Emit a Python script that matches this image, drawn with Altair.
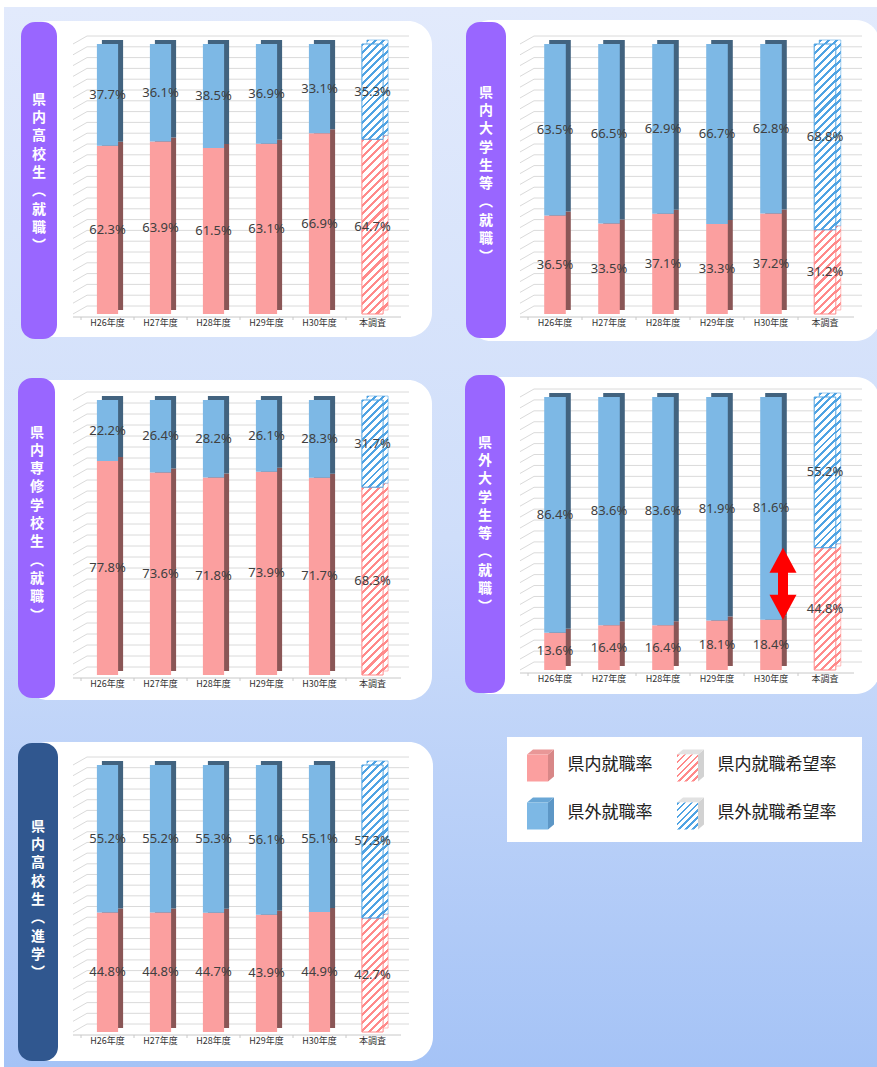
import altair as alt
import pandas as pd

# ---------------- data ----------------
years = ["H26年度", "H27年度", "H28年度", "H29年度", "H30年度", "本調査"]

titles = ["県内高校生（就職）", "県内大学生等（就職）", "県内専修学校生（就職）",
          "県外大学生等（就職）", "県内高校生（進学）"]

in_p1 = [62.3, 63.9, 61.5, 63.1, 66.9, 64.7]
out_p1 = [37.7, 36.1, 38.5, 36.9, 33.1, 35.3]
in_p2 = [36.5, 33.5, 37.1, 33.3, 37.2, 31.2]
out_p2 = [63.5, 66.5, 62.9, 66.7, 62.8, 68.8]
in_p3 = [77.8, 73.6, 71.8, 73.9, 71.7, 68.3]
out_p3 = [22.2, 26.4, 28.2, 26.1, 28.3, 31.7]
in_p4 = [13.6, 16.4, 16.4, 18.1, 18.4, 44.8]
out_p4 = [86.4, 83.6, 83.6, 81.9, 81.6, 55.2]
in_p5 = [44.8, 44.8, 44.7, 43.9, 44.9, 42.7]
out_p5 = [55.2, 55.2, 55.3, 56.1, 55.1, 57.3]

legend_labels = ["県内就職率", "県外就職率", "県内就職希望率", "県外就職希望率"]
legend_cols = [0, 0, 1, 1]
legend_rows = [0, 1, 0, 1]

grid_values = list(range(0, 101, 4))

# ---------------- styles / layout ----------------
PINK, PINK_D, PINK_H = "#fb9f9f", "#8a5656", "#ff8a8a"
BLUE, BLUE_D, BLUE_H = "#7db8e5", "#42637f", "#4fa3e3"
GRID = "#dadada"
DX, DY = 5, -4

GEO = [
    dict(x0=81, x1=399, ybot=314, ytop=44, wx=(24, 432), wy=(21, 337), bx=(21, 57), by=(22, 339),
         bc="#9966ff", tc=(39, 173), fs=14, lh=18.3),
    dict(x0=528, x1=852, ybot=314, ytop=44, wx=(467, 880), wy=(20, 341), bx=(466, 506), by=(22, 338),
         bc="#9966ff", tc=(486, 175), fs=14, lh=18.3),
    dict(x0=81, x1=399, ybot=675, ytop=400, wx=(24, 432), wy=(380, 700), bx=(18, 55), by=(378, 698),
         bc="#9966ff", tc=(37, 524), fs=14, lh=18.3),
    dict(x0=528, x1=852, ybot=670, ytop=397, wx=(467, 880), wy=(377, 694), bx=(465, 505), by=(375, 693),
         bc="#9966ff", tc=(485, 525), fs=14, lh=18.3),
    dict(x0=81, x1=399, ybot=1032, ytop=765, wx=(24, 433), wy=(742, 1061), bx=(18, 58), by=(743, 1061),
         bc="#30578f", tc=(38, 900), fs=14, lh=18.3),
]

one = pd.DataFrame({"k": [0]})


def hatch(color, w, h, period=8.0, frac=0.38):
    k = (w + h) / (w * w + h * h)
    n = max(1, round((w + h) / period))
    stops = []
    for i in range(n):
        a, b, c = i / n, (i + frac) / n, (i + 1) / n
        stops += [{"offset": a, "color": color}, {"offset": b, "color": color},
                  {"offset": b, "color": "white"}, {"offset": c, "color": "white"}]
    return {"gradient": "linear", "x1": 0, "y1": 0, "x2": k * w, "y2": k * h, "stops": stops}


def vtext(t):
    return [{"（": "︵", "）": "︶"}.get(c, c) for c in t]


def rect(x, x2, y, y2, **kw):
    return alt.Chart(one).mark_rect(**kw).encode(
        x=alt.value(x), x2=alt.value(x2), y=alt.value(y), y2=alt.value(y2))


def panel(title, vin, vout, g, arrow=False):
    rows = []
    for yr, a, b in zip(years, vin, vout):
        rows.append(dict(year=yr, seg="in", start=0.0, end=a, mid=a / 2, label=f"{a:.1f}%"))
        rows.append(dict(year=yr, seg="out", start=a, end=a + b, mid=a + b / 2, label=f"{b:.1f}%"))
    df = pd.DataFrame(rows)
    step = (g["x1"] - g["x0"]) / 6
    bw = 0.4 * step
    span = g["ybot"] - g["ytop"]

    xs = alt.Scale(domain=years, range=[g["x0"], g["x1"]], paddingInner=0.6, paddingOuter=0.3)
    ys = alt.Scale(domain=[0, 100], range=[g["ybot"], g["ytop"]], nice=False, zero=False)

    def X(**kw):
        return alt.X("year:N", scale=xs, axis=None, **kw)

    def Y(f):
        return alt.Y(f"{f}:Q", scale=ys, axis=None)

    layers = []
    layers.append(rect(g["wx"][0], g["wx"][1], g["wy"][0], g["wy"][1], color="white", cornerRadius=24))
    layers.append(rect(g["bx"][0], g["bx"][1], g["by"][0], g["by"][1], color=g["bc"], cornerRadius=14))
    chars = vtext(title)
    first_y = g["tc"][1] - (len(chars) - 1) * g["lh"] / 2
    layers.append(alt.Chart(one).mark_text(
        text=chars, font="Noto Sans CJK JP", fontSize=g["fs"], fontWeight="bold",
        color="white", lineHeight=g["lh"], align="center", baseline="middle").encode(
        x=alt.value(g["tc"][0]), y=alt.value(first_y)))

    gdf = pd.DataFrame({"v": grid_values})
    layers.append(alt.Chart(gdf).mark_rule(color=GRID, strokeWidth=1, yOffset=-8).encode(
        y=Y("v"), x=alt.value(g["x0"] + 6), x2=alt.value(g["x1"] + 10)))
    layers.append(alt.Chart(gdf).mark_rule(color=GRID, strokeWidth=1, y2Offset=-8).encode(
        y=Y("v"), y2=alt.Y2("v:Q"), x=alt.value(g["x0"] - 8), x2=alt.value(g["x0"] + 6)))
    fdf = pd.DataFrame({"v": [0]})
    layers.append(alt.Chart(fdf).mark_rule(color="#c8c8c8", strokeWidth=1, yOffset=3).encode(
        y=Y("v"), x=alt.value(g["x0"] - 8), x2=alt.value(g["x1"] + 2)))
    ydf = pd.DataFrame({"year": years})
    layers.append(alt.Chart(ydf).mark_rule(color="#c8c8c8", strokeWidth=1, xOffset=-0.3 * step).encode(
        x=X(bandPosition=0), y=alt.value(g["ybot"] + 3), y2=alt.value(g["ybot"] + 6)))

    solid = alt.Chart(df).transform_filter(alt.datum.year != "本調査")
    # back (3D side/top) faces
    layers.append(solid.mark_bar(xOffset=DX, yOffset=DY, y2Offset=DY).encode(
        x=X(), y=Y("start"), y2=alt.Y2("end:Q"),
        color=alt.condition(alt.datum.seg == "in", alt.value(PINK_D), alt.value(BLUE_D))))
    hat = {}
    for seg, vals, hc in (("in", vin, PINK_H), ("out", vout, BLUE_H)):
        h = vals[-1] / 100 * span
        hat[seg] = (hatch(hc, bw, h), hc)
        layers.append(alt.Chart(df).transform_filter(
            (alt.datum.year == "本調査") & (alt.datum.seg == seg)).mark_bar(
            xOffset=DX, yOffset=DY, y2Offset=DY, fill=hatch(hc, bw, h), stroke=hc,
            strokeWidth=0.8, strokeOpacity=0.7).encode(
            x=X(), y=Y("start"), y2=alt.Y2("end:Q")))
    # front faces
    layers.append(solid.mark_bar().encode(
        x=X(), y=Y("start"), y2=alt.Y2("end:Q"),
        color=alt.condition(alt.datum.seg == "in", alt.value(PINK), alt.value(BLUE))))
    for seg in ("in", "out"):
        grad, hc = hat[seg]
        layers.append(alt.Chart(df).transform_filter(
            (alt.datum.year == "本調査") & (alt.datum.seg == seg)).mark_bar(
            fill=grad, stroke=hc, strokeWidth=1).encode(
            x=X(), y=Y("start"), y2=alt.Y2("end:Q")))

    layers.append(alt.Chart(df).mark_text(
        font="Noto Sans", fontSize=13, color="#404040", baseline="middle").encode(
        x=X(), y=Y("mid"), text="label:N"))
    layers.append(alt.Chart(ydf).mark_text(
        font="Noto Sans CJK JP", fontSize=9, color="#333333", baseline="middle").encode(
        x=X(), y=alt.value(g["ybot"] + 9), text="year:N"))

    if arrow:
        adf = pd.DataFrame({"year": [years[4]], "lo": [vin[4]], "hi": [vin[5]]})
        layers.append(alt.Chart(adf).mark_rule(
            color="#ff0000", strokeWidth=10, xOffset=12, yOffset=-20, y2Offset=20).encode(
            x=X(), y=Y("lo"), y2=alt.Y2("hi:Q")))
        layers.append(alt.Chart(adf).mark_point(
            shape="M0,0L13.5,25L-13.5,25Z", size=4, filled=True, fill="#ff0000",
            opacity=1, strokeWidth=0, xOffset=12).encode(x=X(), y=Y("hi")))
        layers.append(alt.Chart(adf).mark_point(
            shape="M0,0L13.5,-25L-13.5,-25Z", size=4, filled=True, fill="#ff0000",
            opacity=1, strokeWidth=0, xOffset=12).encode(x=X(), y=Y("lo")))
    return alt.layer(*layers)


def legend():
    ldf = pd.DataFrame({"label": legend_labels, "col": legend_cols, "row": legend_rows})
    lx = alt.X("col:O", scale=alt.Scale(type="point", domain=[0, 1], range=[537.5, 687.5], padding=0), axis=None)
    ly = alt.Y("row:O", scale=alt.Scale(type="point", domain=[0, 1], range=[768, 816], padding=0), axis=None)
    front = "M-10.5,-13.5H10.5V13.5H-10.5Z"
    side = "M10.5,-13.5L16.5,-18.5V8.5L10.5,13.5Z"
    top = "M-10.5,-13.5L-4.5,-18.5H16.5L10.5,-13.5Z"
    styles = {
        legend_labels[0]: (PINK, "#d88787", "#e99797"),
        legend_labels[1]: (BLUE, "#5d97c6", "#6aa7d6"),
        legend_labels[2]: (hatch(PINK_H, 21, 27, period=7), "#d2d2d2", "#e2e2e2"),
        legend_labels[3]: (hatch(BLUE_H, 21, 27, period=7), "#d2d2d2", "#e2e2e2"),
    }
    layers = [rect(507, 862, 737, 842, color="white")]
    for lab, (f, s, t) in styles.items():
        base = alt.Chart(ldf).transform_filter(alt.datum.label == lab)
        for path, fill in ((side, s), (top, t), (front, f)):
            layers.append(base.mark_point(shape=path, size=4, filled=True, fill=fill,
                                          opacity=1, strokeWidth=0).encode(x=lx, y=ly))
    layers.append(alt.Chart(ldf).mark_text(
        align="left", baseline="middle", dx=30, dy=-3, fontSize=17, font="Noto Sans CJK JP",
        color="#222222").encode(x=lx, y=ly, text="label:N"))
    return alt.layer(*layers)


bg = alt.Chart(one).mark_rect(fill={
    "gradient": "linear", "x1": 0, "y1": 0, "x2": 0, "y2": 1,
    "stops": [{"offset": 0, "color": "#e2eafc"}, {"offset": 0.5, "color": "#cfdefa"},
              {"offset": 1, "color": "#a5c3f6"}]}).encode(
    x=alt.value(4), x2=alt.value(877), y=alt.value(7), y2=alt.value(1067))

panels = [
    panel(titles[0], in_p1, out_p1, GEO[0]),
    panel(titles[1], in_p2, out_p2, GEO[1]),
    panel(titles[2], in_p3, out_p3, GEO[2]),
    panel(titles[3], in_p4, out_p4, GEO[3], arrow=True),
    panel(titles[4], in_p5, out_p5, GEO[4]),
]

chart = alt.layer(bg, *panels, legend()).resolve_scale(
    x="independent", y="independent").properties(
    width=877, height=1067, padding=0, autosize="none", background="white").configure_view(stroke=None)

chart.save("out.html", embed_options={"renderer": "svg", "actions": False})
